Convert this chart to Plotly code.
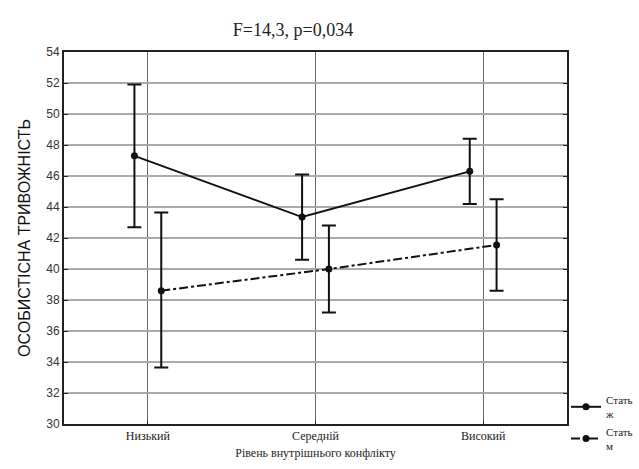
import plotly.graph_objects as go

categories = ["Низький", "Середній", "Високий"]
female_mean = [47.3, 43.35, 46.3]
female_upper = [51.9, 46.1, 48.4]
female_lower = [42.7, 40.6, 44.2]
male_mean = [38.6, 40.0, 41.55]
male_upper = [43.65, 42.8, 44.5]
male_lower = [33.65, 37.2, 38.6]
series_names = ["Стать<br>ж", "Стать<br>м"]
y_ticks = list(range(30, 55, 2))

OFFSET = 0.08
idx = list(range(len(categories)))

def err(mean, up, lo):
    return dict(type="data", symmetric=False,
                array=[u - m for u, m in zip(up, mean)],
                arrayminus=[m - l for m, l in zip(mean, lo)],
                color="#111", thickness=2, width=7)

fig = go.Figure()
fig.add_trace(go.Scatter(
    x=[i - OFFSET for i in idx], y=female_mean, name=series_names[0],
    mode="lines+markers", line=dict(color="#111", width=2),
    marker=dict(color="#111", size=7),
    error_y=err(female_mean, female_upper, female_lower)))
fig.add_trace(go.Scatter(
    x=[i + OFFSET for i in idx], y=male_mean, name=series_names[1],
    mode="lines+markers", line=dict(color="#111", width=2, dash="dashdot"),
    marker=dict(color="#111", size=7),
    error_y=err(male_mean, male_upper, male_lower)))

fig.update_layout(
    width=639, height=469,
    margin=dict(l=64, r=72, t=52, b=45, autoexpand=False),
    paper_bgcolor="white", plot_bgcolor="white",
    title=dict(text="F=14,3, p=0,034", x=293/639, xanchor="center", y=1 - 30/469, yanchor="middle",
               font=dict(family="Liberation Serif, Times New Roman, serif", size=18, color="#222")),
    showlegend=True,
    legend=dict(xref="container", yref="container", x=566/639, xanchor="left",
                y=1 - 386/469, yanchor="top",
                font=dict(family="Liberation Serif, Times New Roman, serif", size=11, color="#222"),
                bgcolor="rgba(0,0,0,0)", tracegroupgap=2, itemwidth=30),
    font=dict(family="Liberation Sans, Arial, sans-serif", color="#222"),
)
fig.update_xaxes(
    range=[-0.5, 2.5], tickmode="array", tickvals=idx, ticktext=categories,
    tickfont=dict(family="Liberation Serif, Times New Roman, serif", size=12, color="#222"),
    showgrid=True, gridcolor="#666", gridwidth=1,
    showline=True, linecolor="#222", linewidth=2, mirror=True,
    ticks="inside", ticklen=3, tickcolor="#222",
    title=dict(text="Рівень внутрішнього конфлікту", standoff=6,
               font=dict(family="Liberation Serif, Times New Roman, serif", size=12, color="#222")),
    zeroline=False, automargin=False,
)
fig.update_yaxes(
    range=[30, 54], tickmode="array", tickvals=y_ticks,
    tickfont=dict(family="Liberation Sans, Arial, sans-serif", size=12, color="#333"),
    showgrid=True, gridcolor="#aaa", gridwidth=2,
    showline=True, linecolor="#222", linewidth=2, mirror="ticks",
    ticks="inside", ticklen=4, tickcolor="#222",
    title=dict(text="ОСОБИСТІСНА ТРИВОЖНІСТЬ", standoff=12,
               font=dict(family="Liberation Sans, Arial, sans-serif", size=16, color="#111")),
    zeroline=False, automargin=False,
)

fig.write_html("out.html", config={"displayModeBar": False},
               post_script="document.body.style.margin='0';document.body.style.overflow='hidden';")
